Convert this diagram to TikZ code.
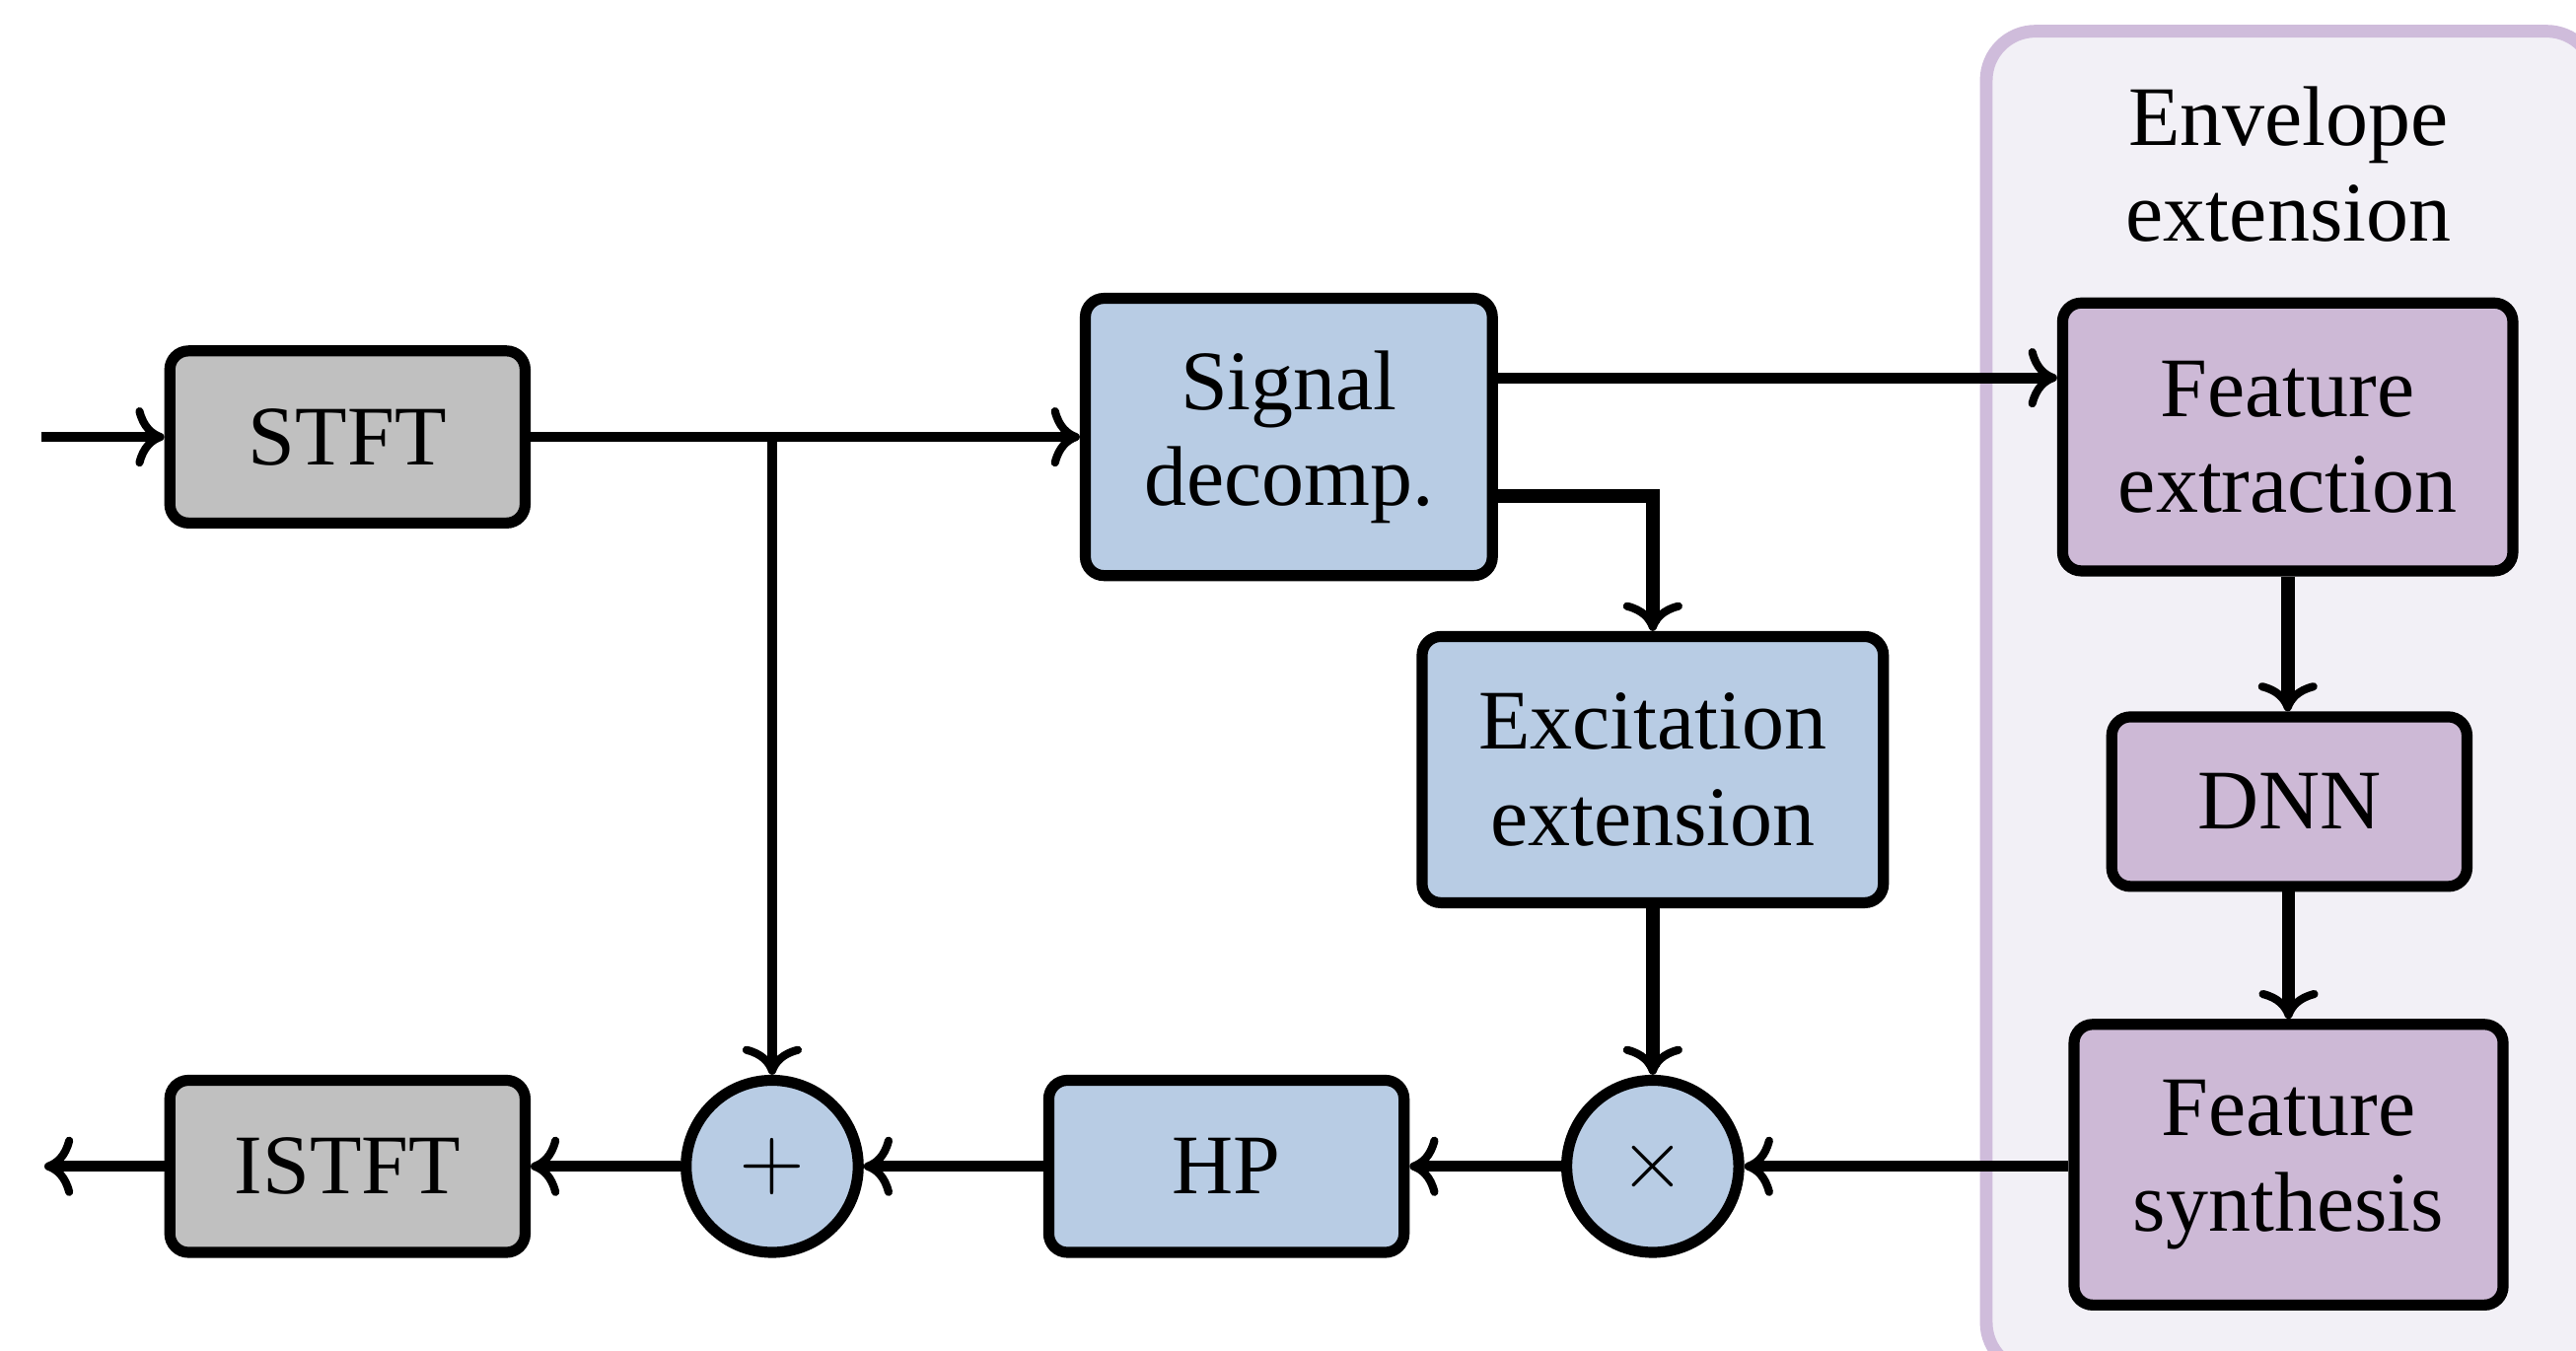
\documentclass[tikz,border=0pt]{standalone}
\usepackage{fontspec}
\setmainfont{Liberation Serif}
\usetikzlibrary{arrows.meta}
\definecolor{boxgray}{HTML}{C0C0C0}
\definecolor{boxblue}{HTML}{B8CCE4}
\definecolor{boxpurple}{HTML}{CDB9D6}
\definecolor{grpfill}{HTML}{F2F0F6}
\definecolor{grpdraw}{HTML}{CFBCDB}
\begin{document}
\begin{tikzpicture}[x=0.19375pt,y=-0.19375pt,
  every node/.style={font=\fontsize{10}{11.3}\selectfont},
  blk/.style={draw, line width=1.3pt, rounded corners=2.2pt, align=center, inner sep=0pt},
  gblk/.style={blk, fill=boxgray},
  bblk/.style={blk, fill=boxblue},
  pblk/.style={blk, fill=boxpurple},
  opc/.style={draw, circle, line width=1.3pt, fill=boxblue, inner sep=0pt, minimum size=20.3pt},
  tipstyle/.style={-{To[length=3.4pt,width=7pt,line width=0.95pt]}},
  conn/.style={line width=1.25pt, tipstyle},
  thickconn/.style={line width=1.6pt, tipstyle},
  grp/.style={draw=grpdraw, fill=grpfill, line width=1.5pt, rounded corners=5.8pt}
]
\useasboundingbox (0,0) rectangle (1568,822);
\clip (0,0) rectangle (1568,822);

% group background
\draw[grp] (1209,19) rectangle (1580,835);
\node[align=center] (grplabel) at (1393,100) {Envelope\\extension};

% nodes
\node[gblk, minimum width=41.9pt, minimum height=20.3pt] (stft) at (211.5,266) {STFT};
\node[gblk, minimum width=41.9pt, minimum height=20.3pt] (istft) at (211.5,710) {ISTFT};
\node[opc] (plus) at (470,710) {$+$};
\node[bblk, minimum width=41.9pt, minimum height=20.3pt] (hp) at (746.5,710) {HP};
\node[opc] (times) at (1006,710) {$\times$};
\node[bblk, minimum width=48pt, minimum height=32.7pt] (dec) at (784.5,266) {Signal\\decomp.};
\node[bblk, minimum width=54.4pt, minimum height=31.4pt] (exc) at (1006,468.5) {Excitation\\extension};
\node[pblk, minimum width=53.1pt, minimum height=31.6pt] (fe) at (1392.5,266) {Feature\\extraction};
\node[pblk, minimum width=41.9pt, minimum height=20pt] (dnn) at (1393.5,488) {DNN};
\node[pblk, minimum width=50.6pt, minimum height=33.1pt] (fs) at (1393,709) {Feature\\synthesis};

% helper coordinates
\coordinate (in) at (25,266);
\coordinate (out) at (27,710);
\coordinate (br) at (470,266);
\coordinate (ya) at (0,230);
\coordinate (yb) at (0,302);

% connectors
\draw[conn] (in) -- (stft);
\draw[conn] (stft) -- (dec);
\draw[conn] (br) -- (plus);
\draw[conn] (dec.east |- ya) -- (fe.west |- ya);
\draw[thickconn] (dec.east |- yb) -| (exc.north);
\draw[thickconn] (exc) -- (times);
\draw[thickconn] (fe) -- (dnn.north -| fe.south);
\draw[thickconn] (dnn.south -| fs.north) -- (fs);
\draw[conn] (fs.west |- times) -- (times);
\draw[conn] (times) -- (hp);
\draw[conn] (hp) -- (plus);
\draw[conn] (plus) -- (istft);
\draw[conn] (istft) -- (out);
\end{tikzpicture}
\end{document}
